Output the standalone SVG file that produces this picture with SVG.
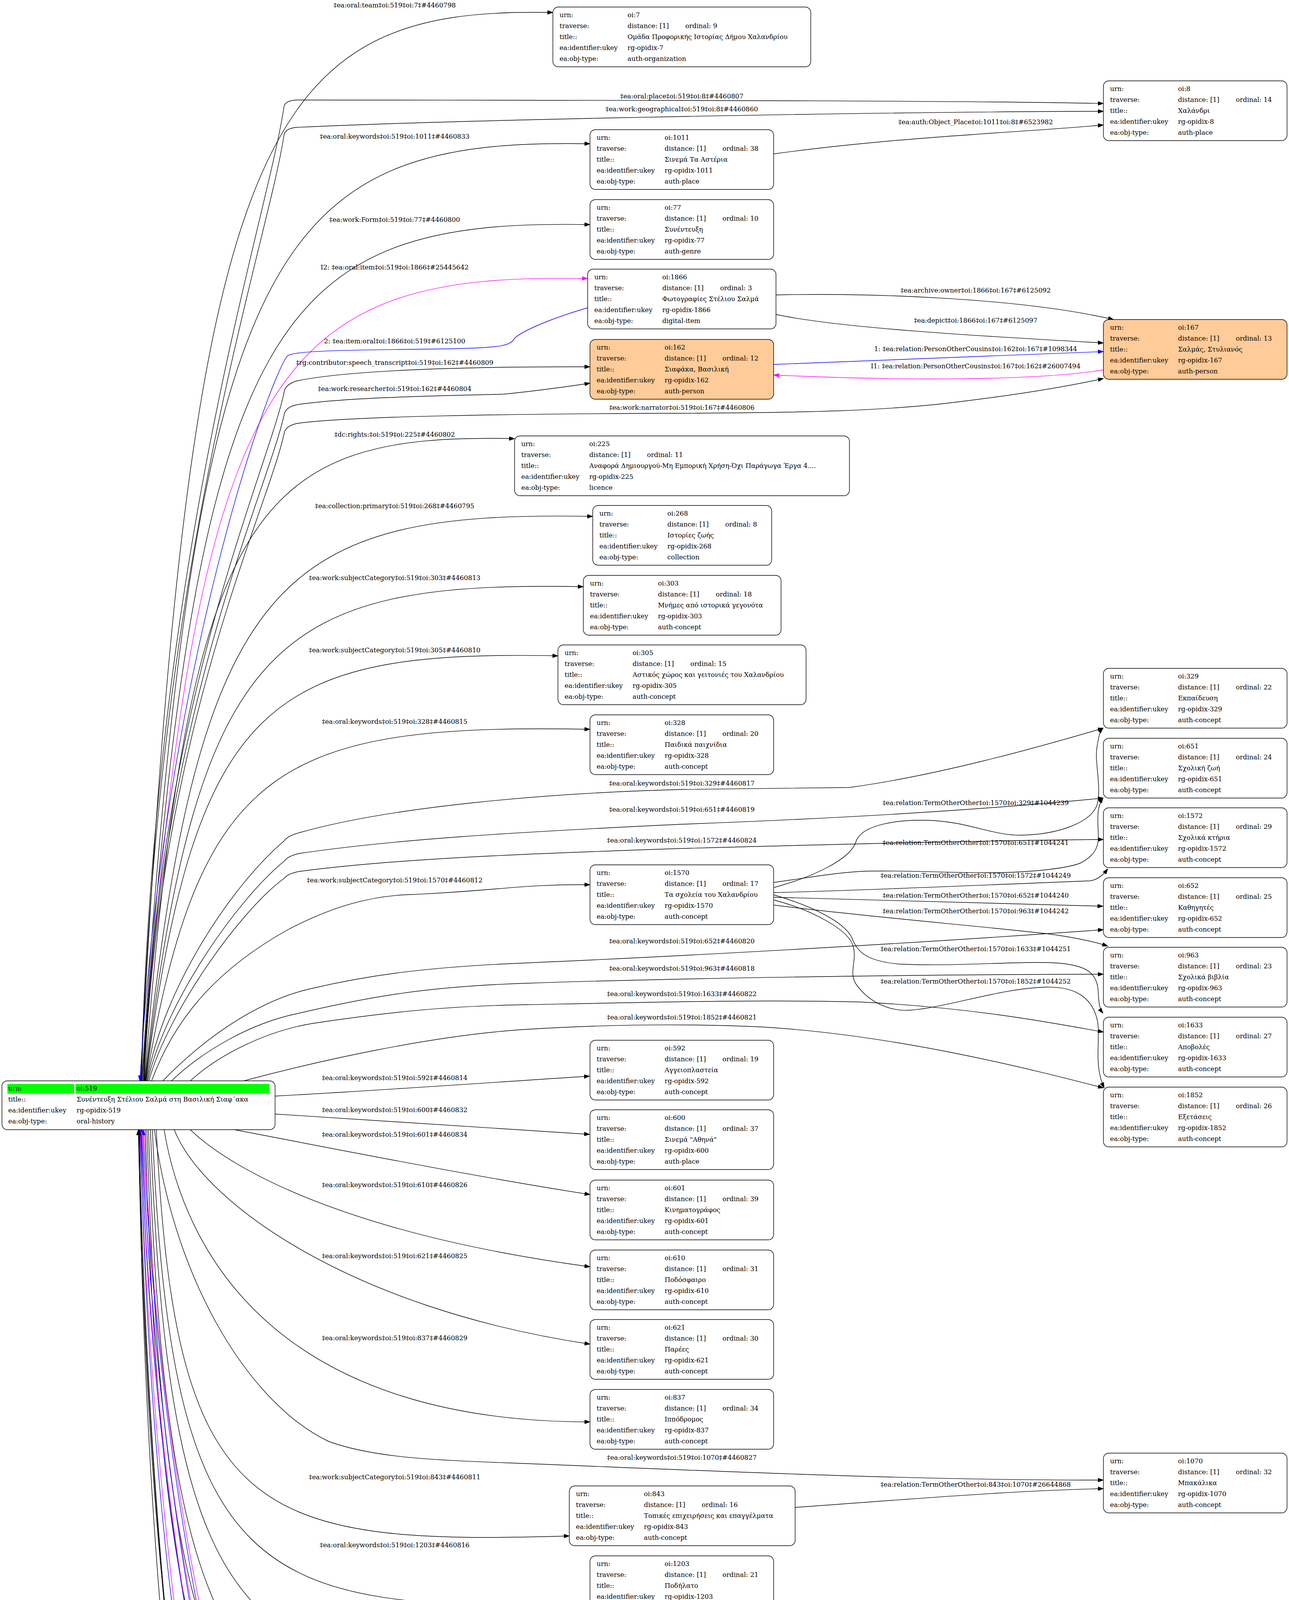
<svg xmlns="http://www.w3.org/2000/svg" width="3299" height="5983" viewBox="0 0 3299 5983">
<style>
text{font-family:"DejaVu Serif","Liberation Serif",serif;font-size:16.7px;fill:#000}
.node rect.b{fill:#fff;stroke:#000;stroke-width:1.4}
.node.p rect.b{fill:#ffcc99}
.lab text{text-anchor:middle}
.e path{fill:none;stroke:#000;stroke-width:1.4}
.e path.k{marker-end:url(#ab)}
.e path.u{stroke:#0000ff}
.e path.u.k{marker-end:url(#au)}
.e path.m{stroke:#ff00ff}
.e path.m.k{marker-end:url(#am)}
</style>
<defs>
<marker id="ab" viewBox="0 0 14 10" refX="14" refY="5" markerWidth="14" markerHeight="10" markerUnits="userSpaceOnUse" orient="auto"><path d="M0,0 L14,5 L0,10 z" fill="#000" stroke="#000"/></marker>
<marker id="au" viewBox="0 0 14 10" refX="14" refY="5" markerWidth="14" markerHeight="10" markerUnits="userSpaceOnUse" orient="auto"><path d="M0,0 L14,5 L0,10 z" fill="#0000ff" stroke="#0000ff"/></marker>
<marker id="am" viewBox="0 0 14 10" refX="14" refY="5" markerWidth="14" markerHeight="10" markerUnits="userSpaceOnUse" orient="auto"><path d="M0,0 L14,5 L0,10 z" fill="#ff00ff" stroke="#ff00ff"/></marker>
</defs>
<rect width="3299" height="5983" fill="#fff"/>

<g id="edges" class="e">
<path class="k" d="M360,2767 C487,306 677,17 1415,32"/>
<path class="k" d="M361,2767 C397,1395 683,571 727,272 Q731,257 760,256 C1400,257 2400,256 2824,265"/>
<path class="k" d="M362,2767 C400,1430 685,625 727,345 Q731,328 760,326 C1200,305 2300,286 2824,285"/>
<path class="k" d="M363,2767 C500,608 706,353 1510,368"/>
<path class="k" d="M364,2767 C501,794 706,560 1510,575"/>
<path class="m k" d="M366,2767 C502,918 707,698 1504,713"/>
<path class="u k" d="M1504,788 C1420,812 1340,845 1318,865 C1305,885 1290,890 1150,893 C900,896 760,897 737,910 C700,940 420,1700 358,2767"/>
<path class="k" d="M367,2767 C405,1790 688,1200 728,1000 Q733,983 760,975 C880,950 1150,938 1510,939"/>
<path class="k" d="M368,2767 C405,1830 688,1250 728,1058 Q733,1042 760,1036 C900,1015 1200,1012 1290,1009 C1380,1000 1450,990 1510,981"/>
<path class="k" d="M369,2767 C407,1860 688,1300 728,1106 Q733,1090 760,1084 C900,1065 1300,1060 1700,1058 C2100,1057 2250,1050 2400,1035 C2600,1012 2730,990 2824,969"/>
<path class="k" d="M370,2767 C484,1287 654,1108 1317,1123"/>
<path class="k" d="M371,2767 C509,1466 715,1307 1517,1322"/>
<path class="k" d="M372,2767 C507,1628 708,1487 1493,1502"/>
<path class="k" d="M373,2767 C500,1788 690,1664 1428,1679"/>
<path class="k" d="M374,2767 C510,1957 715,1852 1510,1867"/>
<path class="k" d="M376,2767 C420,2520 600,2260 728,2152 Q736,2140 765,2132 C1000,2065 1400,2030 1745,2021 C1950,2018 2100,2017 2174,2016 C2400,1985 2650,1915 2824,1864"/>
<path class="k" d="M378,2767 C425,2560 610,2300 728,2204 Q736,2192 765,2185 C1000,2150 1300,2131 1745,2110 C2100,2097 2500,2075 2824,2043"/>
<path class="k" d="M381,2767 C430,2590 615,2330 728,2248 Q736,2237 765,2231 C1000,2200 1300,2187 1745,2172 C2200,2160 2500,2152 2824,2149"/>
<path class="k" d="M388,2767 C450,2600 560,2480 733,2382 C850,2320 950,2293 1051,2290 C1250,2282 1350,2262 1510,2265"/>
<path class="k" d="M417,2767 C520,2660 660,2560 800,2530 C950,2495 1100,2475 1350,2465 C1700,2450 2300,2418 2824,2380"/>
<path class="k" d="M439,2767 C520,2690 640,2620 760,2595 C950,2550 1100,2525 1350,2517 C1700,2505 2300,2495 2824,2494"/>
<path class="k" d="M487,2767 C560,2700 680,2640 800,2620 C1000,2590 1150,2575 1350,2572 C1700,2565 1950,2559 2200,2565 C2500,2580 2700,2620 2824,2642"/>
<path class="k" d="M624,2767 C800,2720 1100,2650 1350,2635 C1600,2620 1800,2622 1950,2629 C2300,2650 2650,2740 2824,2785"/>
<path class="k" d="M704,2806 C1000,2790 1300,2768 1509,2755"/>
<path class="k" d="M704,2852 C1000,2870 1300,2890 1509,2904"/>
<path class="k" d="M600,2892 C800,2930 1200,3010 1510,3058"/>
<path class="k" d="M487,2892 C600,3000 900,3160 1510,3243"/>
<path class="k" d="M446,2892 C520,3080 900,3350 1510,3441"/>
<path class="k" d="M420,2892 C480,3250 750,3640 1510,3640"/>
<path class="k" d="M395,2892 C450,3300 650,3600 841,3690 C950,3730 1100,3738 1300,3745 C1700,3760 2300,3790 2824,3789"/>
<path class="k" d="M400,2892 C448,3885 643,3957 1457,3932"/>
<path class="k" d="M390,2892 C440,4050 648,4130 1510,4105"/>
<path class="k" d="M385,2892 C436,4222 644,4310 1510,4285"/>
<path class="k" d="M380,2892 C431,4395 640,4491 1510,4466"/>
<path class="k" d="M376,2892 C427,4568 637,4672 1510,4647"/>
<path class="k" d="M372,2892 C423,4701 634,4811 1510,4786"/>
<path class="m k" d="M369,2892 C400,3700 560,4500 729,4810 Q740,4828 780,4832 C1000,4840 1250,4840 1296,4852 C1340,4866 1450,4895 1516,4910"/>
<path class="u k" d="M1516,4924 C1450,4915 1330,4905 1296,4902 C1200,4895 900,4890 760,4885 Q735,4883 728,4870 C560,4560 400,3700 366,2892"/>
<path class="m k" d="M364,2892 C395,3800 560,4620 729,4926 Q740,4940 780,4940 C1100,4942 1250,4940 1290,4960 C1310,4975 1305,5020 1320,5045 C1360,5080 1420,5105 1479,5118"/>
<path class="u k" d="M1479,5107 C1400,5080 1330,5050 1314,5020 C1305,5005 1300,4998 1280,4995 C1100,4990 800,4988 760,4985 Q735,4983 728,4972 C560,4680 400,3800 362,2892"/>
<path class="m k" d="M1459,5295 C1380,5270 1318,5250 1312,5225 C1305,5180 1310,5140 1290,5120 C1250,5090 1150,5085 1000,5100 C900,5112 800,5115 740,5092 C570,4800 395,3900 360,2892"/>
<path class="u k" d="M361,2892 C390,3900 560,4720 730,5030 Q740,5040 790,5040 C1100,5040 1260,5030 1290,5055 C1320,5080 1310,5140 1302,5190 C1298,5230 1330,5260 1459,5297"/>
<path class="m k" d="M1499,5484 C1420,5465 1330,5430 1310,5395 C1298,5360 1305,5320 1306,5290 C1300,5260 1270,5240 1200,5232 C1100,5228 950,5240 858,5238 C800,5237 760,5230 734,5214 C560,5150 390,4000 358,2892"/>
<path class="u k" d="M359,2892 C385,4000 520,4950 730,5148 C760,5168 800,5172 858,5169 C950,5165 1050,5150 1137,5150 C1230,5150 1290,5170 1298,5200 C1305,5260 1295,5330 1305,5400 C1330,5440 1420,5470 1499,5487"/>
<path class="k" d="M357,2892 C370,4200 540,5250 778,5338 C820,5352 850,5352 874,5349 C960,5340 1060,5300 1137,5304 C1210,5310 1260,5350 1285,5420 C1310,5490 1290,5560 1320,5596 C1370,5640 1450,5660 1516,5669"/>
<path class="k" d="M1516,5654 C1430,5635 1360,5620 1336,5602 C1310,5585 1300,5570 1285,5545 C1240,5500 1200,5475 1137,5473 C1050,5470 980,5485 922,5484 C860,5483 810,5478 778,5465 C720,5440 680,5400 659,5376 C500,5100 380,4000 356,2892"/>
<path class="k" d="M355,2892 C375,4300 520,5350 730,5570 C800,5640 1000,5710 1177,5742 C1320,5770 1440,5795 1516,5810"/>
<path class="k" d="M1516,5909 C1400,5935 1280,5950 1177,5947 C1080,5945 1000,5945 938,5934 C850,5915 770,5860 722,5796 C690,5750 670,5720 659,5690 C560,5400 380,4200 354,2892"/>
<path class="k" d="M1980,394 C2300,350 2600,340 2824,320"/>
<path class="k" d="M1986,755 C2200,750 2600,760 2850,818"/>
<path class="k" d="M1986,805 C2150,840 2500,860 2824,878"/>
<path class="u k" d="M1980,933 C2300,920 2600,908 2824,900"/>
<path class="m k" d="M2824,947 C2650,975 2300,975 1980,960"/>
<path class="k" d="M1981,2272 C2080,2245 2180,2200 2192,2151 C2210,2110 2300,2098 2374,2100 C2480,2103 2540,2140 2617,2138 C2700,2136 2790,2110 2808,2060 C2820,2010 2800,1950 2808,1910 C2812,1885 2815,1872 2823,1864"/>
<path class="k" d="M1981,2259 C2080,2245 2150,2232 2223,2230 C2350,2228 2450,2236 2556,2234 C2650,2232 2740,2222 2768,2208 C2800,2190 2812,2170 2811,2140 C2810,2100 2805,2070 2823,2042"/>
<path class="k" d="M1981,2285 C2200,2280 2600,2262 2790,2255 C2810,2252 2825,2238 2835,2224"/>
<path class="k" d="M1981,2297 C2300,2305 2600,2312 2823,2320"/>
<path class="k" d="M1981,2317 C2200,2345 2500,2370 2677,2390 C2740,2398 2800,2410 2835,2422"/>
<path class="k" d="M1981,2291 C2080,2320 2160,2360 2180,2400 C2195,2440 2220,2460 2300,2468 C2450,2475 2600,2460 2700,2465 C2780,2470 2805,2490 2810,2530 C2812,2560 2812,2580 2823,2594"/>
<path class="k" d="M1981,2304 C2080,2330 2170,2380 2183,2420 C2195,2460 2170,2490 2192,2521 C2220,2560 2270,2590 2330,2586 C2420,2580 2560,2530 2677,2527 C2760,2525 2800,2560 2810,2620 C2815,2670 2800,2730 2826,2785"/>
<path class="k" d="M2035,3859 C2300,3840 2600,3815 2824,3811"/>
</g>

<g id="edge-labels" class="lab">
<text x="1010" y="19">‡ea:oral:team‡oi:519‡oi:7‡#4460798</text>
<text x="1010" y="355">‡ea:oral:keywords‡oi:519‡oi:1011‡#4460833</text>
<text x="1010" y="568">‡ea:work:Form‡oi:519‡oi:77‡#4460800</text>
<text x="1010" y="690">I2: ‡ea:oral:item‡oi:519‡oi:1866‡#25445642</text>
<text x="1010" y="879">2: ‡ea:item:oral‡oi:1866‡oi:519‡#6125100</text>
<text x="1010" y="934">‡rg:contributor:speech_transcript‡oi:519‡oi:162‡#4460809</text>
<text x="1010" y="1001">‡ea:work:researcher‡oi:519‡oi:162‡#4460804</text>
<text x="1010" y="1118">‡dc:rights:‡oi:519‡oi:225‡#4460802</text>
<text x="1010" y="1301">‡ea:collection:primary‡oi:519‡oi:268‡#4460795</text>
<text x="1010" y="1485">‡ea:work:subjectCategory‡oi:519‡oi:303‡#4460813</text>
<text x="1010" y="1670">‡ea:work:subjectCategory‡oi:519‡oi:305‡#4460810</text>
<text x="1010" y="1853">‡ea:oral:keywords‡oi:519‡oi:328‡#4460815</text>
<text x="1010" y="2259">‡ea:work:subjectCategory‡oi:519‡oi:1570‡#4460812</text>
<text x="1010" y="2765">‡ea:oral:keywords‡oi:519‡oi:592‡#4460814</text>
<text x="1010" y="2847">‡ea:oral:keywords‡oi:519‡oi:600‡#4460832</text>
<text x="1010" y="2910">‡ea:oral:keywords‡oi:519‡oi:601‡#4460834</text>
<text x="1010" y="3039">‡ea:oral:keywords‡oi:519‡oi:610‡#4460826</text>
<text x="1010" y="3221">‡ea:oral:keywords‡oi:519‡oi:621‡#4460825</text>
<text x="1010" y="3431">‡ea:oral:keywords‡oi:519‡oi:837‡#4460829</text>
<text x="1010" y="3787">‡ea:work:subjectCategory‡oi:519‡oi:843‡#4460811</text>
<text x="1010" y="3961">‡ea:oral:keywords‡oi:519‡oi:1203‡#4460816</text>
<text x="1010" y="4141">‡ea:oral:keywords‡oi:519‡oi:1543‡#4460823</text>
<text x="1010" y="4322">‡ea:oral:keywords‡oi:519‡oi:1700‡#4460828</text>
<text x="1010" y="4505">‡ea:oral:keywords‡oi:519‡oi:1859‡#4460830</text>
<text x="1010" y="4687">‡ea:oral:keywords‡oi:519‡oi:1860‡#4460831</text>
<text x="1010" y="4809">I2: ‡ea:oral:item‡oi:519‡oi:1861‡#25927517</text>
<text x="1010" y="4873">2: ‡ea:item:oral‡oi:1861‡oi:519‡#6131354</text>
<text x="1010" y="4923">I2: ‡ea:oral:item‡oi:519‡oi:1862‡#25927587</text>
<text x="1010" y="4974">2: ‡ea:item:oral‡oi:1862‡oi:519‡#6126511</text>
<text x="1010" y="5026">2: ‡ea:oral:item‡oi:519‡oi:3738‡#4460868</text>
<text x="1010" y="5079">I2: ‡ea:item:oral‡oi:3738‡oi:519‡#25927664</text>
<text x="1010" y="5135">2: ‡ea:oral:item‡oi:519‡oi:3963‡#4460864</text>
<text x="1010" y="5202">I2: ‡ea:item:oral‡oi:3963‡oi:519‡#25927734</text>
<text x="1010" y="5281">‡ea:bitstream:node‡oi:519‡oi:3999‡#4464116</text>
<text x="1010" y="5389">‡ea:bitstream:of‡oi:3999‡oi:519‡#4464105</text>
<text x="1010" y="5555">‡ea:bitstream:node‡oi:519‡oi:4162‡#6666508</text>
<text x="1010" y="5790">‡ea:bitstream:of‡oi:4162‡oi:519‡#6666497</text>
<text x="1745" y="252">‡ea:oral:place‡oi:519‡oi:8‡#4460807</text>
<text x="1745" y="285">‡ea:work:geographical‡oi:519‡oi:8‡#4460860</text>
<text x="1745" y="1049">‡ea:work:narrator‡oi:519‡oi:167‡#4460806</text>
<text x="1745" y="2011">‡ea:oral:keywords‡oi:519‡oi:329‡#4460817</text>
<text x="1745" y="2078">‡ea:oral:keywords‡oi:519‡oi:651‡#4460819</text>
<text x="1745" y="2157">‡ea:oral:keywords‡oi:519‡oi:1572‡#4460824</text>
<text x="1745" y="2415">‡ea:oral:keywords‡oi:519‡oi:652‡#4460820</text>
<text x="1745" y="2485">‡ea:oral:keywords‡oi:519‡oi:963‡#4460818</text>
<text x="1745" y="2550">‡ea:oral:keywords‡oi:519‡oi:1633‡#4460822</text>
<text x="1745" y="2610">‡ea:oral:keywords‡oi:519‡oi:1852‡#4460821</text>
<text x="1745" y="3737">‡ea:oral:keywords‡oi:519‡oi:1070‡#4460827</text>
<text x="2497" y="318">‡ea:auth:Object_Place‡oi:1011‡oi:8‡#6523982</text>
<text x="2497" y="749">‡ea:archive:owner‡oi:1866‡oi:167‡#6125092</text>
<text x="2497" y="826">‡ea:depict‡oi:1866‡oi:167‡#6125097</text>
<text x="2497" y="899">1: ‡ea:relation:PersonOtherCousins‡oi:162‡oi:167‡#1098344</text>
<text x="2497" y="943">I1: ‡ea:relation:PersonOtherCousins‡oi:167‡oi:162‡#26007494</text>
<text x="2497" y="2061">‡ea:relation:TermOtherOther‡oi:1570‡oi:329‡#1044239</text>
<text x="2497" y="2163">‡ea:relation:TermOtherOther‡oi:1570‡oi:651‡#1044241</text>
<text x="2497" y="2247">‡ea:relation:TermOtherOther‡oi:1570‡oi:1572‡#1044249</text>
<text x="2497" y="2298">‡ea:relation:TermOtherOther‡oi:1570‡oi:652‡#1044240</text>
<text x="2497" y="2338">‡ea:relation:TermOtherOther‡oi:1570‡oi:963‡#1044242</text>
<text x="2497" y="2435">‡ea:relation:TermOtherOther‡oi:1570‡oi:1633‡#1044251</text>
<text x="2497" y="2518">‡ea:relation:TermOtherOther‡oi:1570‡oi:1852‡#1044252</text>
<text x="2497" y="3806">‡ea:relation:TermOtherOther‡oi:843‡oi:1070‡#26644868</text>
</g>

<g id="oi-519" class="node" transform="translate(5,2767)"><rect class="b" width="699" height="125" rx="14"/><rect x="14" y="8" width="171" height="25" fill="#00ff00"/><rect x="188" y="8" width="497" height="25" fill="#00ff00"/><text x="16" y="25">urn:</text><text x="191" y="25">oi:519</text><text x="16" y="53">title::</text><text x="191" y="53">Συνέντευξη Στέλιου Σαλμά στη Βασιλική Σιαφ΄ακα</text><text x="16" y="81">ea:identifier:ukey</text><text x="191" y="81">rg-opidix-519</text><text x="16" y="109">ea:obj-type:</text><text x="191" y="109">oral-history</text></g>

<g id="oi-7" class="node" transform="translate(1415,18)"><rect class="b" width="660" height="153" rx="14"/><text x="17" y="25.5">urn:</text><text x="191" y="25.5">oi:7</text><text x="17" y="53.5">traverse:</text><text x="191" y="53.5">distance: [1]</text><text x="339" y="53.5">ordinal: 9</text><text x="17" y="81.6">title::</text><text x="191" y="81.6">Ομάδα Προφορικής Ιστορίας Δήμου Χαλανδρίου</text><text x="17" y="109.6">ea:identifier:ukey</text><text x="191" y="109.6">rg-opidix-7</text><text x="17" y="137.7">ea:obj-type:</text><text x="191" y="137.7">auth-organization</text></g>
<g id="oi-8" class="node" transform="translate(2824,207)"><rect class="b" width="470" height="153" rx="14"/><text x="17" y="25.5">urn:</text><text x="191" y="25.5">oi:8</text><text x="17" y="53.5">traverse:</text><text x="191" y="53.5">distance: [1]</text><text x="339" y="53.5">ordinal: 14</text><text x="17" y="81.6">title::</text><text x="191" y="81.6">Χαλάνδρι</text><text x="17" y="109.6">ea:identifier:ukey</text><text x="191" y="109.6">rg-opidix-8</text><text x="17" y="137.7">ea:obj-type:</text><text x="191" y="137.7">auth-place</text></g>
<g id="oi-1011" class="node" transform="translate(1510,332)"><rect class="b" width="470" height="153" rx="14"/><text x="17" y="25.5">urn:</text><text x="191" y="25.5">oi:1011</text><text x="17" y="53.5">traverse:</text><text x="191" y="53.5">distance: [1]</text><text x="339" y="53.5">ordinal: 38</text><text x="17" y="81.6">title::</text><text x="191" y="81.6">Σινεμά Τα Αστέρια</text><text x="17" y="109.6">ea:identifier:ukey</text><text x="191" y="109.6">rg-opidix-1011</text><text x="17" y="137.7">ea:obj-type:</text><text x="191" y="137.7">auth-place</text></g>
<g id="oi-77" class="node" transform="translate(1510,511)"><rect class="b" width="470" height="153" rx="14"/><text x="17" y="25.5">urn:</text><text x="191" y="25.5">oi:77</text><text x="17" y="53.5">traverse:</text><text x="191" y="53.5">distance: [1]</text><text x="339" y="53.5">ordinal: 10</text><text x="17" y="81.6">title::</text><text x="191" y="81.6">Συνέντευξη</text><text x="17" y="109.6">ea:identifier:ukey</text><text x="191" y="109.6">rg-opidix-77</text><text x="17" y="137.7">ea:obj-type:</text><text x="191" y="137.7">auth-genre</text></g>
<g id="oi-1866" class="node" transform="translate(1504,689)"><rect class="b" width="482" height="153" rx="14"/><text x="17" y="25.5">urn:</text><text x="191" y="25.5">oi:1866</text><text x="17" y="53.5">traverse:</text><text x="191" y="53.5">distance: [1]</text><text x="339" y="53.5">ordinal: 3</text><text x="17" y="81.6">title::</text><text x="191" y="81.6">Φωτογραφίες Στέλιου Σαλμά</text><text x="17" y="109.6">ea:identifier:ukey</text><text x="191" y="109.6">rg-opidix-1866</text><text x="17" y="137.7">ea:obj-type:</text><text x="191" y="137.7">digital-item</text></g>
<g id="oi-162" class="node p" transform="translate(1510,869)"><rect class="b" width="470" height="153" rx="14"/><text x="17" y="25.5">urn:</text><text x="191" y="25.5">oi:162</text><text x="17" y="53.5">traverse:</text><text x="191" y="53.5">distance: [1]</text><text x="339" y="53.5">ordinal: 12</text><text x="17" y="81.6">title::</text><text x="191" y="81.6">Σιαφάκα, Βασιλική</text><text x="17" y="109.6">ea:identifier:ukey</text><text x="191" y="109.6">rg-opidix-162</text><text x="17" y="137.7">ea:obj-type:</text><text x="191" y="137.7">auth-person</text></g>
<g id="oi-167" class="node p" transform="translate(2824,818)"><rect class="b" width="470" height="153" rx="14"/><text x="17" y="25.5">urn:</text><text x="191" y="25.5">oi:167</text><text x="17" y="53.5">traverse:</text><text x="191" y="53.5">distance: [1]</text><text x="339" y="53.5">ordinal: 13</text><text x="17" y="81.6">title::</text><text x="191" y="81.6">Σαλμάς, Στυλιανός</text><text x="17" y="109.6">ea:identifier:ukey</text><text x="191" y="109.6">rg-opidix-167</text><text x="17" y="137.7">ea:obj-type:</text><text x="191" y="137.7">auth-person</text></g>
<g id="oi-225" class="node" transform="translate(1317,1116)"><rect class="b" width="857" height="153" rx="14"/><text x="17" y="25.5">urn:</text><text x="191" y="25.5">oi:225</text><text x="17" y="53.5">traverse:</text><text x="191" y="53.5">distance: [1]</text><text x="339" y="53.5">ordinal: 11</text><text x="17" y="81.6">title::</text><text x="191" y="81.6">Αναφορά Δημιουργού-Μη Εμπορική Χρήση-Όχι Παράγωγα Έργα 4....</text><text x="17" y="109.6">ea:identifier:ukey</text><text x="191" y="109.6">rg-opidix-225</text><text x="17" y="137.7">ea:obj-type:</text><text x="191" y="137.7">licence</text></g>
<g id="oi-268" class="node" transform="translate(1517,1294)"><rect class="b" width="458" height="153" rx="14"/><text x="17" y="25.5">urn:</text><text x="191" y="25.5">oi:268</text><text x="17" y="53.5">traverse:</text><text x="191" y="53.5">distance: [1]</text><text x="339" y="53.5">ordinal: 8</text><text x="17" y="81.6">title::</text><text x="191" y="81.6">Ιστορίες ζωής</text><text x="17" y="109.6">ea:identifier:ukey</text><text x="191" y="109.6">rg-opidix-268</text><text x="17" y="137.7">ea:obj-type:</text><text x="191" y="137.7">collection</text></g>
<g id="oi-303" class="node" transform="translate(1493,1473)"><rect class="b" width="506" height="153" rx="14"/><text x="17" y="25.5">urn:</text><text x="191" y="25.5">oi:303</text><text x="17" y="53.5">traverse:</text><text x="191" y="53.5">distance: [1]</text><text x="339" y="53.5">ordinal: 18</text><text x="17" y="81.6">title::</text><text x="191" y="81.6">Μνήμες από ιστορικά γεγονότα</text><text x="17" y="109.6">ea:identifier:ukey</text><text x="191" y="109.6">rg-opidix-303</text><text x="17" y="137.7">ea:obj-type:</text><text x="191" y="137.7">auth-concept</text></g>
<g id="oi-305" class="node" transform="translate(1428,1651)"><rect class="b" width="635" height="153" rx="14"/><text x="17" y="25.5">urn:</text><text x="191" y="25.5">oi:305</text><text x="17" y="53.5">traverse:</text><text x="191" y="53.5">distance: [1]</text><text x="339" y="53.5">ordinal: 15</text><text x="17" y="81.6">title::</text><text x="191" y="81.6">Αστικός χώρος και γειτονιές του Χαλανδρίου</text><text x="17" y="109.6">ea:identifier:ukey</text><text x="191" y="109.6">rg-opidix-305</text><text x="17" y="137.7">ea:obj-type:</text><text x="191" y="137.7">auth-concept</text></g>
<g id="oi-328" class="node" transform="translate(1510,1830)"><rect class="b" width="470" height="153" rx="14"/><text x="17" y="25.5">urn:</text><text x="191" y="25.5">oi:328</text><text x="17" y="53.5">traverse:</text><text x="191" y="53.5">distance: [1]</text><text x="339" y="53.5">ordinal: 20</text><text x="17" y="81.6">title::</text><text x="191" y="81.6">Παιδικά παιχνίδια</text><text x="17" y="109.6">ea:identifier:ukey</text><text x="191" y="109.6">rg-opidix-328</text><text x="17" y="137.7">ea:obj-type:</text><text x="191" y="137.7">auth-concept</text></g>
<g id="oi-329" class="node" transform="translate(2824,1711)"><rect class="b" width="470" height="153" rx="14"/><text x="17" y="25.5">urn:</text><text x="191" y="25.5">oi:329</text><text x="17" y="53.5">traverse:</text><text x="191" y="53.5">distance: [1]</text><text x="339" y="53.5">ordinal: 22</text><text x="17" y="81.6">title::</text><text x="191" y="81.6">Εκπαίδευση</text><text x="17" y="109.6">ea:identifier:ukey</text><text x="191" y="109.6">rg-opidix-329</text><text x="17" y="137.7">ea:obj-type:</text><text x="191" y="137.7">auth-concept</text></g>
<g id="oi-651" class="node" transform="translate(2824,1890)"><rect class="b" width="470" height="153" rx="14"/><text x="17" y="25.5">urn:</text><text x="191" y="25.5">oi:651</text><text x="17" y="53.5">traverse:</text><text x="191" y="53.5">distance: [1]</text><text x="339" y="53.5">ordinal: 24</text><text x="17" y="81.6">title::</text><text x="191" y="81.6">Σχολική ζωή</text><text x="17" y="109.6">ea:identifier:ukey</text><text x="191" y="109.6">rg-opidix-651</text><text x="17" y="137.7">ea:obj-type:</text><text x="191" y="137.7">auth-concept</text></g>
<g id="oi-1572" class="node" transform="translate(2824,2068)"><rect class="b" width="470" height="153" rx="14"/><text x="17" y="25.5">urn:</text><text x="191" y="25.5">oi:1572</text><text x="17" y="53.5">traverse:</text><text x="191" y="53.5">distance: [1]</text><text x="339" y="53.5">ordinal: 29</text><text x="17" y="81.6">title::</text><text x="191" y="81.6">Σχολικά κτήρια</text><text x="17" y="109.6">ea:identifier:ukey</text><text x="191" y="109.6">rg-opidix-1572</text><text x="17" y="137.7">ea:obj-type:</text><text x="191" y="137.7">auth-concept</text></g>
<g id="oi-652" class="node" transform="translate(2824,2247)"><rect class="b" width="470" height="153" rx="14"/><text x="17" y="25.5">urn:</text><text x="191" y="25.5">oi:652</text><text x="17" y="53.5">traverse:</text><text x="191" y="53.5">distance: [1]</text><text x="339" y="53.5">ordinal: 25</text><text x="17" y="81.6">title::</text><text x="191" y="81.6">Καθηγητές</text><text x="17" y="109.6">ea:identifier:ukey</text><text x="191" y="109.6">rg-opidix-652</text><text x="17" y="137.7">ea:obj-type:</text><text x="191" y="137.7">auth-concept</text></g>
<g id="oi-963" class="node" transform="translate(2824,2425)"><rect class="b" width="470" height="153" rx="14"/><text x="17" y="25.5">urn:</text><text x="191" y="25.5">oi:963</text><text x="17" y="53.5">traverse:</text><text x="191" y="53.5">distance: [1]</text><text x="339" y="53.5">ordinal: 23</text><text x="17" y="81.6">title::</text><text x="191" y="81.6">Σχολικά βιβλία</text><text x="17" y="109.6">ea:identifier:ukey</text><text x="191" y="109.6">rg-opidix-963</text><text x="17" y="137.7">ea:obj-type:</text><text x="191" y="137.7">auth-concept</text></g>
<g id="oi-1633" class="node" transform="translate(2824,2604)"><rect class="b" width="470" height="153" rx="14"/><text x="17" y="25.5">urn:</text><text x="191" y="25.5">oi:1633</text><text x="17" y="53.5">traverse:</text><text x="191" y="53.5">distance: [1]</text><text x="339" y="53.5">ordinal: 27</text><text x="17" y="81.6">title::</text><text x="191" y="81.6">Αποβολές</text><text x="17" y="109.6">ea:identifier:ukey</text><text x="191" y="109.6">rg-opidix-1633</text><text x="17" y="137.7">ea:obj-type:</text><text x="191" y="137.7">auth-concept</text></g>
<g id="oi-1852" class="node" transform="translate(2824,2783)"><rect class="b" width="470" height="153" rx="14"/><text x="17" y="25.5">urn:</text><text x="191" y="25.5">oi:1852</text><text x="17" y="53.5">traverse:</text><text x="191" y="53.5">distance: [1]</text><text x="339" y="53.5">ordinal: 26</text><text x="17" y="81.6">title::</text><text x="191" y="81.6">Εξετάσεις</text><text x="17" y="109.6">ea:identifier:ukey</text><text x="191" y="109.6">rg-opidix-1852</text><text x="17" y="137.7">ea:obj-type:</text><text x="191" y="137.7">auth-concept</text></g>
<g id="oi-1570" class="node" transform="translate(1510,2214)"><rect class="b" width="470" height="153" rx="14"/><text x="17" y="25.5">urn:</text><text x="191" y="25.5">oi:1570</text><text x="17" y="53.5">traverse:</text><text x="191" y="53.5">distance: [1]</text><text x="339" y="53.5">ordinal: 17</text><text x="17" y="81.6">title::</text><text x="191" y="81.6">Τα σχολεία του Χαλανδρίου</text><text x="17" y="109.6">ea:identifier:ukey</text><text x="191" y="109.6">rg-opidix-1570</text><text x="17" y="137.7">ea:obj-type:</text><text x="191" y="137.7">auth-concept</text></g>
<g id="oi-592" class="node" transform="translate(1510,2663)"><rect class="b" width="470" height="153" rx="14"/><text x="17" y="25.5">urn:</text><text x="191" y="25.5">oi:592</text><text x="17" y="53.5">traverse:</text><text x="191" y="53.5">distance: [1]</text><text x="339" y="53.5">ordinal: 19</text><text x="17" y="81.6">title::</text><text x="191" y="81.6">Αγγειοπλαστεία</text><text x="17" y="109.6">ea:identifier:ukey</text><text x="191" y="109.6">rg-opidix-592</text><text x="17" y="137.7">ea:obj-type:</text><text x="191" y="137.7">auth-concept</text></g>
<g id="oi-600" class="node" transform="translate(1510,2841)"><rect class="b" width="470" height="153" rx="14"/><text x="17" y="25.5">urn:</text><text x="191" y="25.5">oi:600</text><text x="17" y="53.5">traverse:</text><text x="191" y="53.5">distance: [1]</text><text x="339" y="53.5">ordinal: 37</text><text x="17" y="81.6">title::</text><text x="191" y="81.6">Σινεμά "Αθηνά"</text><text x="17" y="109.6">ea:identifier:ukey</text><text x="191" y="109.6">rg-opidix-600</text><text x="17" y="137.7">ea:obj-type:</text><text x="191" y="137.7">auth-place</text></g>
<g id="oi-601" class="node" transform="translate(1510,3021)"><rect class="b" width="470" height="153" rx="14"/><text x="17" y="25.5">urn:</text><text x="191" y="25.5">oi:601</text><text x="17" y="53.5">traverse:</text><text x="191" y="53.5">distance: [1]</text><text x="339" y="53.5">ordinal: 39</text><text x="17" y="81.6">title::</text><text x="191" y="81.6">Κινηματογράφος</text><text x="17" y="109.6">ea:identifier:ukey</text><text x="191" y="109.6">rg-opidix-601</text><text x="17" y="137.7">ea:obj-type:</text><text x="191" y="137.7">auth-concept</text></g>
<g id="oi-610" class="node" transform="translate(1510,3200)"><rect class="b" width="470" height="153" rx="14"/><text x="17" y="25.5">urn:</text><text x="191" y="25.5">oi:610</text><text x="17" y="53.5">traverse:</text><text x="191" y="53.5">distance: [1]</text><text x="339" y="53.5">ordinal: 31</text><text x="17" y="81.6">title::</text><text x="191" y="81.6">Ποδόσφαιρο</text><text x="17" y="109.6">ea:identifier:ukey</text><text x="191" y="109.6">rg-opidix-610</text><text x="17" y="137.7">ea:obj-type:</text><text x="191" y="137.7">auth-concept</text></g>
<g id="oi-621" class="node" transform="translate(1510,3378)"><rect class="b" width="470" height="153" rx="14"/><text x="17" y="25.5">urn:</text><text x="191" y="25.5">oi:621</text><text x="17" y="53.5">traverse:</text><text x="191" y="53.5">distance: [1]</text><text x="339" y="53.5">ordinal: 30</text><text x="17" y="81.6">title::</text><text x="191" y="81.6">Παρέες</text><text x="17" y="109.6">ea:identifier:ukey</text><text x="191" y="109.6">rg-opidix-621</text><text x="17" y="137.7">ea:obj-type:</text><text x="191" y="137.7">auth-concept</text></g>
<g id="oi-837" class="node" transform="translate(1510,3557)"><rect class="b" width="470" height="153" rx="14"/><text x="17" y="25.5">urn:</text><text x="191" y="25.5">oi:837</text><text x="17" y="53.5">traverse:</text><text x="191" y="53.5">distance: [1]</text><text x="339" y="53.5">ordinal: 34</text><text x="17" y="81.6">title::</text><text x="191" y="81.6">Ιππόδρομος</text><text x="17" y="109.6">ea:identifier:ukey</text><text x="191" y="109.6">rg-opidix-837</text><text x="17" y="137.7">ea:obj-type:</text><text x="191" y="137.7">auth-concept</text></g>
<g id="oi-1070" class="node" transform="translate(2824,3720)"><rect class="b" width="470" height="153" rx="14"/><text x="17" y="25.5">urn:</text><text x="191" y="25.5">oi:1070</text><text x="17" y="53.5">traverse:</text><text x="191" y="53.5">distance: [1]</text><text x="339" y="53.5">ordinal: 32</text><text x="17" y="81.6">title::</text><text x="191" y="81.6">Μπακάλικα</text><text x="17" y="109.6">ea:identifier:ukey</text><text x="191" y="109.6">rg-opidix-1070</text><text x="17" y="137.7">ea:obj-type:</text><text x="191" y="137.7">auth-concept</text></g>
<g id="oi-843" class="node" transform="translate(1457,3804)"><rect class="b" width="578" height="153" rx="14"/><text x="17" y="25.5">urn:</text><text x="191" y="25.5">oi:843</text><text x="17" y="53.5">traverse:</text><text x="191" y="53.5">distance: [1]</text><text x="339" y="53.5">ordinal: 16</text><text x="17" y="81.6">title::</text><text x="191" y="81.6">Τοπικές επιχειρήσεις και επαγγέλματα</text><text x="17" y="109.6">ea:identifier:ukey</text><text x="191" y="109.6">rg-opidix-843</text><text x="17" y="137.7">ea:obj-type:</text><text x="191" y="137.7">auth-concept</text></g>
<g id="oi-1203" class="node" transform="translate(1510,3983)"><rect class="b" width="470" height="153" rx="14"/><text x="17" y="25.5">urn:</text><text x="191" y="25.5">oi:1203</text><text x="17" y="53.5">traverse:</text><text x="191" y="53.5">distance: [1]</text><text x="339" y="53.5">ordinal: 21</text><text x="17" y="81.6">title::</text><text x="191" y="81.6">Ποδήλατο</text><text x="17" y="109.6">ea:identifier:ukey</text><text x="191" y="109.6">rg-opidix-1203</text><text x="17" y="137.7">ea:obj-type:</text><text x="191" y="137.7">auth-concept</text></g>
<g id="oi-1543" class="node" transform="translate(1510,4161)"><rect class="b" width="470" height="153" rx="14"/><text x="17" y="25.5">urn:</text><text x="191" y="25.5">oi:1543</text><text x="17" y="53.5">traverse:</text><text x="191" y="53.5">distance: [1]</text><text x="339" y="53.5">ordinal: 28</text><text x="17" y="81.6">title::</text><text x="191" y="81.6">Αθλητισμός</text><text x="17" y="109.6">ea:identifier:ukey</text><text x="191" y="109.6">rg-opidix-1543</text><text x="17" y="137.7">ea:obj-type:</text><text x="191" y="137.7">auth-concept</text></g>
<g id="oi-1700" class="node" transform="translate(1510,4340)"><rect class="b" width="470" height="153" rx="14"/><text x="17" y="25.5">urn:</text><text x="191" y="25.5">oi:1700</text><text x="17" y="53.5">traverse:</text><text x="191" y="53.5">distance: [1]</text><text x="339" y="53.5">ordinal: 33</text><text x="17" y="81.6">title::</text><text x="191" y="81.6">Βαρελάς</text><text x="17" y="109.6">ea:identifier:ukey</text><text x="191" y="109.6">rg-opidix-1700</text><text x="17" y="137.7">ea:obj-type:</text><text x="191" y="137.7">auth-concept</text></g>
<g id="oi-1859" class="node" transform="translate(1510,4519)"><rect class="b" width="470" height="153" rx="14"/><text x="17" y="25.5">urn:</text><text x="191" y="25.5">oi:1859</text><text x="17" y="53.5">traverse:</text><text x="191" y="53.5">distance: [1]</text><text x="339" y="53.5">ordinal: 35</text><text x="17" y="81.6">title::</text><text x="191" y="81.6">Ενοικίαση μοτοποδηλάτων</text><text x="17" y="109.6">ea:identifier:ukey</text><text x="191" y="109.6">rg-opidix-1859</text><text x="17" y="137.7">ea:obj-type:</text><text x="191" y="137.7">auth-concept</text></g>
<g id="oi-1860" class="node" transform="translate(1510,4697)"><rect class="b" width="470" height="153" rx="14"/><text x="17" y="25.5">urn:</text><text x="191" y="25.5">oi:1860</text><text x="17" y="53.5">traverse:</text><text x="191" y="53.5">distance: [1]</text><text x="339" y="53.5">ordinal: 36</text><text x="17" y="81.6">title::</text><text x="191" y="81.6">Γιαούρτι</text><text x="17" y="109.6">ea:identifier:ukey</text><text x="191" y="109.6">rg-opidix-1860</text><text x="17" y="137.7">ea:obj-type:</text><text x="191" y="137.7">auth-concept</text></g>
<g id="oi-1861" class="node" transform="translate(1516,4875)"><rect class="b" width="458" height="153" rx="14"/><text x="17" y="25.5">urn:</text><text x="191" y="25.5">oi:1861</text><text x="17" y="53.5">traverse:</text><text x="191" y="53.5">distance: [1]</text><text x="339" y="53.5">ordinal: 1</text><text x="17" y="81.6">title::</text><text x="191" y="81.6">VSIAF_SSALMAS: Προφίλ</text><text x="17" y="109.6">ea:identifier:ukey</text><text x="191" y="109.6">rg-opidix-1861</text><text x="17" y="137.7">ea:obj-type:</text><text x="191" y="137.7">digital-item</text></g>
<g id="oi-1862" class="node" transform="translate(1479,5054)"><rect class="b" width="532" height="153" rx="14"/><text x="17" y="25.5">urn:</text><text x="191" y="25.5">oi:1862</text><text x="17" y="53.5">traverse:</text><text x="191" y="53.5">distance: [1]</text><text x="339" y="53.5">ordinal: 2</text><text x="17" y="81.6">title::</text><text x="191" y="81.6">VSIAF_SSALMAS: Παραχωρητήριο</text><text x="17" y="109.6">ea:identifier:ukey</text><text x="191" y="109.6">rg-opidix-1862</text><text x="17" y="137.7">ea:obj-type:</text><text x="191" y="137.7">digital-item</text></g>
<g id="oi-3738" class="node" transform="translate(1459,5233)"><rect class="b" width="571" height="153" rx="14"/><text x="17" y="25.5">urn:</text><text x="191" y="25.5">oi:3738</text><text x="17" y="53.5">traverse:</text><text x="191" y="53.5">distance: [1]</text><text x="339" y="53.5">ordinal: 4</text><text x="17" y="81.6">title::</text><text x="191" y="81.6">VSIAF_SSALMAS: Απομαγνητοφώνηση</text><text x="17" y="109.6">ea:identifier:ukey</text><text x="191" y="109.6">rg-opidix-3738</text><text x="17" y="137.7">ea:obj-type:</text><text x="191" y="137.7">digital-item</text></g>
<g id="oi-3963" class="node" transform="translate(1499,5411)"><rect class="b" width="492" height="153" rx="14"/><text x="17" y="25.5">urn:</text><text x="191" y="25.5">oi:3963</text><text x="17" y="53.5">traverse:</text><text x="191" y="53.5">distance: [1]</text><text x="339" y="53.5">ordinal: 5</text><text x="17" y="81.6">title::</text><text x="191" y="81.6">VSIAF_SSALMAS_VIDEO480p</text><text x="17" y="109.6">ea:identifier:ukey</text><text x="191" y="109.6">rg-opidix-3963</text><text x="17" y="137.7">ea:obj-type:</text><text x="191" y="137.7">digital-item</text></g>
<g id="oi-3999" class="node" transform="translate(1516,5590)"><rect class="b" width="458" height="153" rx="14"/><text x="17" y="25.5">urn:</text><text x="191" y="25.5">oi:3999</text><text x="17" y="53.5">traverse:</text><text x="191" y="53.5">distance: [1]</text><text x="339" y="53.5">ordinal: 6</text><text x="17" y="81.6">title::</text><text x="191" y="81.6">salmas.jpg</text><text x="17" y="109.6">ea:identifier:ukey</text><text x="191" y="109.6">rg-opidix-3999</text><text x="17" y="137.7">ea:obj-type:</text><text x="191" y="137.7">bitstream</text></g>
<g id="oi-4162" class="node" transform="translate(1516,5769)"><rect class="b" width="458" height="153" rx="14"/><text x="17" y="25.5">urn:</text><text x="191" y="25.5">oi:4162</text><text x="17" y="53.5">traverse:</text><text x="191" y="53.5">distance: [1]</text><text x="339" y="53.5">ordinal: 7</text><text x="17" y="81.6">title::</text><text x="191" y="81.6">519_enhanced.jpg</text><text x="17" y="109.6">ea:identifier:ukey</text><text x="191" y="109.6">rg-opidix-4162</text><text x="17" y="137.7">ea:obj-type:</text><text x="191" y="137.7">bitstream</text></g>

<text id="footer" x="1527" y="5966">root: 519 nodes count: 66</text>
</svg>
